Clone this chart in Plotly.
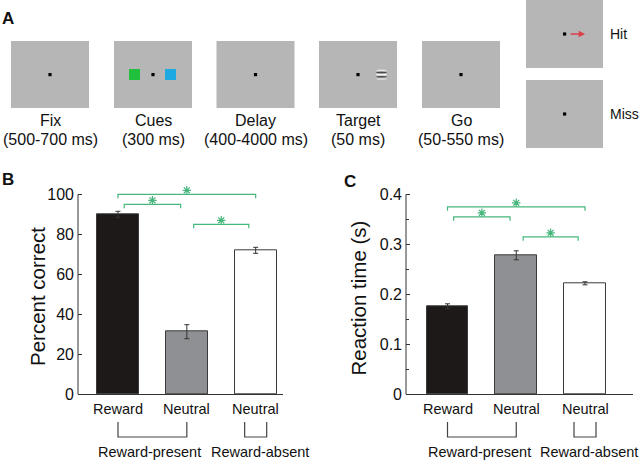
import plotly.graph_objects as go

W, H = 640, 460
FONT = "Liberation Sans, Arial, Helvetica, sans-serif"

# ---------------- data ----------------
categories = ["Reward", "Neutral", "Neutral"]
groups = ["Reward-present", "Reward-absent"]
group_members = [[0, 1], [2]]

pct_correct = [90.0, 31.3, 72.0]
pct_err = [1.5, 3.5, 1.5]
rt = [0.176, 0.278, 0.222]
rt_err = [0.005, 0.009, 0.003]

sig_pairs = [(0, 2), (0, 1), (1, 2)]
sig_levels_b = [100, 95, 85]
sig_levels_c = [0.375, 0.355, 0.315]

b_ticks = [0, 20, 40, 60, 80, 100]
c_ticks = [0, 0.1, 0.2, 0.3, 0.4]
c_ticktext = ["0", "0.1", "0.2", "0.3", "0.4"]
c_minor = [0.05, 0.15, 0.25, 0.35]

stages = ["Fix", "Cues", "Delay", "Target", "Go"]
durations = ["(500-700 ms)", "(300 ms)", "(400-4000 ms)", "(50 ms)", "(50-550 ms)"]
outcomes = ["Hit", "Miss"]

# ---------------- styles ----------------
bar_colors = ["#1c1918", "#8e9093", "#ffffff"]
edge = "#3a3a3a"
green = "#46b67c"
sig_insets = [0.0, 0.09, 0.1]
GRAY_BOX = "#b6b6b6"


def px(x, y):
    return x / W, 1 - y / H


fig = go.Figure()
shapes = []
annotations = []

# ---------------- Panel A (schematic) ----------------
box_cx = [50, 153, 255.5, 358, 461]
for i, cx in enumerate(box_cx):
    x0, y0 = px(cx - 39, 41)
    x1, y1 = px(cx + 39, 108)
    shapes.append(dict(type="rect", xref="paper", yref="paper", x0=x0, x1=x1, y0=y1, y1=y0,
                       fillcolor=GRAY_BOX, line=dict(width=0), layer="below"))
    dx0, dy0 = px(cx - 1.6, 73)
    dx1, dy1 = px(cx + 1.6, 76.2)
    shapes.append(dict(type="rect", xref="paper", yref="paper", x0=dx0, x1=dx1, y0=dy1, y1=dy0,
                       fillcolor="black", line=dict(width=0)))
    tx, ty = px(cx, 120)
    annotations.append(dict(xref="paper", yref="paper", x=tx, y=ty, text=stages[i], showarrow=False,
                            xanchor="center", yanchor="middle", font=dict(size=16, color="#111", family=FONT)))
    tx, ty = px(cx, 139.5)
    annotations.append(dict(xref="paper", yref="paper", x=tx, y=ty, text=durations[i], showarrow=False,
                            xanchor="center", yanchor="middle", font=dict(size=16, color="#111", family=FONT)))

# cue squares
for (xa, xb, col) in [(129, 140, "#20c03c"), (165, 176, "#1ea9e2")]:
    a0, b0 = px(xa, 69)
    a1, b1 = px(xb, 80)
    shapes.append(dict(type="rect", xref="paper", yref="paper", x0=a0, x1=a1, y0=b1, y1=b0,
                       fillcolor=col, line=dict(width=0)))

# gabor target
gx = 381.5
for (yy, col, hh) in [(70.3, "#e6e6e6", 1.6), (72.6, "#4a4a4a", 1.6), (74.7, "#f4f4f4", 1.8),
                      (76.8, "#4a4a4a", 1.6), (78.9, "#e2e2e2", 1.5)]:
    a0, b0 = px(gx - 5.5, yy - hh / 2)
    a1, b1 = px(gx + 5.5, yy + hh / 2)
    shapes.append(dict(type="circle", xref="paper", yref="paper", x0=a0, x1=a1, y0=b1, y1=b0,
                       fillcolor=col, line=dict(width=0)))

# Hit / Miss boxes
for j, (ytop, ybot, ycen) in enumerate([(-2, 68, 34), (80, 148, 114)]):
    a0, b0 = px(526, ytop)
    a1, b1 = px(603, ybot)
    shapes.append(dict(type="rect", xref="paper", yref="paper", x0=a0, x1=a1, y0=b1, y1=b0,
                       fillcolor=GRAY_BOX, line=dict(width=0), layer="below"))
    d0, e0 = px(563, ycen - 1.6)
    d1, e1 = px(566.2, ycen + 1.6)
    shapes.append(dict(type="rect", xref="paper", yref="paper", x0=d0, x1=d1, y0=e1, y1=e0,
                       fillcolor="black", line=dict(width=0)))
    lx, ly = px(608, ycen)
    annotations.append(dict(xref="paper", yref="paper", x=lx, y=ly, text=outcomes[j], showarrow=False,
                            xanchor="left", yanchor="middle",
                            font=dict(size=14, color="#111", family=FONT)))

ax_, ay_ = px(585, 34)
annotations.append(dict(xref="paper", yref="paper", x=ax_, y=ay_, ax=-16, ay=0, text="",
                        showarrow=True, arrowhead=2, arrowsize=0.9, arrowwidth=1.4, arrowcolor="#d9424b"))

# panel letters
for letter, (lx, ly) in [("A", (8, 19)), ("B", (8, 180)), ("C", (350, 181))]:
    a, b = px(lx, ly)
    annotations.append(dict(xref="paper", yref="paper", x=a, y=b, text="<b>%s</b>" % letter, showarrow=False,
                            xanchor="center", yanchor="middle", font=dict(size=17, color="#111", family=FONT)))

# ---------------- Panels B and C ----------------
panels = [
    dict(xa="x", ya="y", vals=pct_correct, errs=pct_err, levels=sig_levels_b, ppu=2.0,
         title="Percent correct", title_pos=(37, 297), top=100),
    dict(xa="x2", ya="y2", vals=rt, errs=rt_err, levels=sig_levels_c, ppu=500.0,
         title="Reaction time (s)", title_pos=(357.5, 298), top=0.4),
]

xpos = list(range(len(categories)))
for p in panels:
    fig.add_trace(go.Bar(
        x=xpos, y=p["vals"], width=0.61,
        marker=dict(color=bar_colors, line=dict(color=edge, width=1)),
        error_y=dict(type="data", array=p["errs"], color="#333", thickness=1, width=2.5),
        xaxis=p["xa"], yaxis=p["ya"], showlegend=False, hoverinfo="skip"))
    drop = 4.0 / p["ppu"]
    for k, (i, j) in enumerate(sig_pairs):
        lev = p["levels"][k]
        a = xpos[i] + sig_insets[k]
        b = xpos[j] - sig_insets[k]
        fig.add_trace(go.Scatter(x=[a, a, b, b], y=[lev - drop, lev, lev, lev - drop], mode="lines",
                                 line=dict(color=green, width=1.2), xaxis=p["xa"], yaxis=p["ya"],
                                 showlegend=False, hoverinfo="skip"))
        fig.add_trace(go.Scatter(x=[(a + b) / 2], y=[lev + 4.0 / p["ppu"]], mode="markers",
                                 marker=dict(symbol="asterisk-open", size=7, color=green,
                                             line=dict(color=green, width=1.2)),
                                 xaxis=p["xa"], yaxis=p["ya"], showlegend=False, hoverinfo="skip",
                                 cliponaxis=False))
    # y axis line up to top tick
    shapes.append(dict(type="line", xref=p["xa"] + " domain", yref=p["ya"], x0=0, x1=0, y0=0, y1=p["top"],
                       line=dict(color="#333", width=1)))
    # category labels
    for i, c in enumerate(categories):
        _, ty = px(0, 409)
        annotations.append(dict(xref=p["xa"], yref="paper", x=xpos[i], y=ty, text=c, showarrow=False,
                                xanchor="center", yanchor="middle",
                                font=dict(size=14.5, color="#111", family=FONT)))
    # group brackets and labels
    _, yt = px(0, 422)
    _, yb = px(0, 437)
    _, yl = px(0, 452)
    for g, mem in enumerate(group_members):
        if len(mem) > 1:
            a, b = xpos[mem[0]], xpos[mem[-1]]
        else:
            a, b = xpos[mem[0]] - 0.16, xpos[mem[0]] + 0.16
        shapes.append(dict(type="path", xref=p["xa"], yref="paper",
                           path="M %f,%f L %f,%f L %f,%f L %f,%f" % (a, yt, a, yb, b, yb, b, yt),
                           line=dict(color="#444", width=1.2)))
        cx = sum(xpos[m] for m in mem) / len(mem)
        annotations.append(dict(xref=p["xa"], yref="paper", x=cx - (0.04 if len(mem) > 1 else -0.06),
                                y=yl, text=groups[g], showarrow=False,
                                xanchor="center", yanchor="middle",
                                font=dict(size=14.5, color="#111", family=FONT)))
    tx, ty = px(*p["title_pos"])
    annotations.append(dict(xref="paper", yref="paper", x=tx, y=ty, text=p["title"], showarrow=False,
                            textangle=-90, xanchor="center", yanchor="middle",
                            font=dict(size=20.5, color="#111", family=FONT)))

ydom_top = 1 - 178.3 / H
common_x = dict(showticklabels=False, showline=False, zeroline=False, showgrid=False, ticks="")
fig.update_layout(
    width=W, height=H, margin=dict(l=0, r=0, t=0, b=0),
    paper_bgcolor="white", plot_bgcolor="rgba(0,0,0,0)",
    font=dict(family=FONT, color="#111"),
    showlegend=False, bargap=0,
    xaxis=dict(domain=[78 / W, 283 / W], range=[-0.581, 2.397], **common_x),
    xaxis2=dict(domain=[406 / W, 633 / W], range=[-0.6036, 2.698], **common_x),
    yaxis=dict(domain=[0, ydom_top], range=[-32.85, 108], tickvals=b_ticks, ticks="inside", ticklen=4,
               tickcolor="#333", showgrid=False, showline=False, zeroline=True, zerolinecolor="#333",
               zerolinewidth=1, tickfont=dict(size=16, color="#111"), anchor="x", ticklabelstandoff=3),
    yaxis2=dict(domain=[0, ydom_top], range=[-0.1314, 0.432], tickvals=c_ticks, ticktext=c_ticktext,
                ticks="inside", ticklen=4, tickcolor="#333", showgrid=False, showline=False,
                zeroline=True, zerolinecolor="#333", zerolinewidth=1, tickfont=dict(size=16, color="#111"),
                minor=dict(tickvals=c_minor, ticks="inside", ticklen=3, tickcolor="#333"), anchor="x2",
                ticklabelstandoff=3),
    shapes=shapes, annotations=annotations,
)

fig.write_html("out.html", config={"displayModeBar": False},
               post_script="document.body.style.margin='0';document.body.style.padding='0';")
